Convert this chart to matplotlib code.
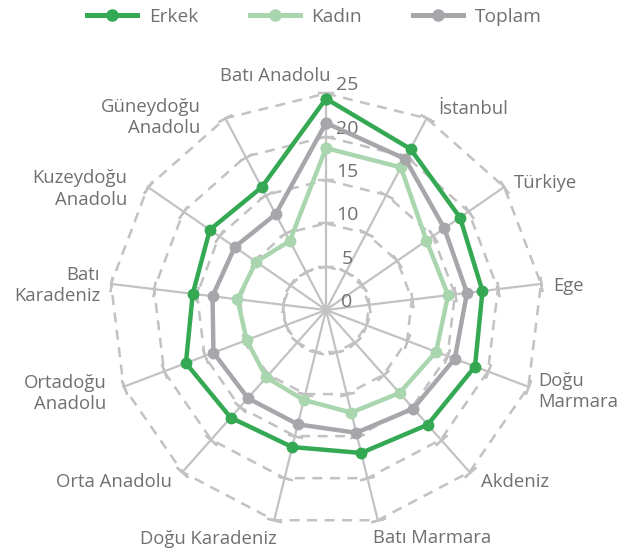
import numpy as np
import matplotlib
matplotlib.use("Agg")
import matplotlib.pyplot as plt
from matplotlib.lines import Line2D

plt.rcParams['font.family'] = ['Open Sans', 'DejaVu Sans']

categories = ["Batı Anadolu", "İstanbul", "Türkiye", "Ege", "Doğu\nMarmara", "Akdeniz",
              "Batı Marmara", "Doğu Karadeniz", "Orta Anadolu", "Ortadoğu\nAnadolu",
              "Batı\nKaradeniz", "Kuzeydoğu\nAnadolu", "Güneydoğu\nAnadolu"]
erkek = [24.4, 21.0, 18.8, 18.2, 18.4, 17.7, 17.0, 16.3, 16.6, 17.3, 15.5, 16.3, 16.0]
kadin = [18.7, 18.6, 14.1, 14.2, 13.6, 12.8, 12.2, 10.7, 10.4, 9.8, 10.3, 9.8, 9.0]
toplam = [21.6, 19.7, 16.6, 16.4, 15.9, 15.2, 14.6, 13.6, 13.6, 13.9, 13.2, 12.8, 12.5]
rticks = [0, 5, 10, 15, 20, 25]
series_names = ["Erkek", "Kadın", "Toplam"]

# layout (pixels)
W, H = 629, 549
cx, cy, R = 326, 310, 216.5
TEXT = "#707070"
GRID = "#c2c2c2"
colors = {"Erkek": "#34a853", "Kadın": "#a9d6ae", "Toplam": "#a6a6ab"}

fig = plt.figure(figsize=(W / 100, H / 100), dpi=100)
w, h = 2 * R / W, 2 * R / H
ax = fig.add_axes([cx / W - w / 2, (H - cy) / H - h / 2, w, h], projection='polar')
ax.set_theta_zero_location('N')
ax.set_theta_direction(-1)
ax.set_ylim(0, rticks[-1])
ax.set_axis_off()

n = len(categories)
theta = np.arange(n) * 2 * np.pi / n
theta_c = np.append(theta, theta[0])

# spokes
for t in theta:
    ax.plot([t, t], [0, rticks[-1]], color=GRID, lw=1.6, clip_on=False, zorder=1)
    ax.plot([t] * (len(rticks) - 1), rticks[1:], ls='none',
            marker=(2, 2, 90 - np.degrees(t)), ms=11, mew=1.6, mec=GRID,
            clip_on=False, zorder=1)
# dashed rings
for v in rticks[1:]:
    ax.plot(theta_c, [v] * (n + 1), color=GRID, lw=1.8, ls=(0, (4, 3)),
            clip_on=False, zorder=1)

# series
data = {"Erkek": erkek, "Kadın": kadin, "Toplam": toplam}
zo = {"Kadın": 3, "Toplam": 4, "Erkek": 5}
for name in series_names:
    vals = data[name]
    ax.plot(theta_c, list(vals) + [vals[0]], color=colors[name], lw=3.2,
            marker='o', ms=7.5, clip_on=False, zorder=zo[name],
            solid_joinstyle='round')

# radial tick labels
for v in rticks:
    ax.annotate(str(v), xy=(0, v), xytext=(21, 8), textcoords='offset pixels',
                ha='center', va='center', fontsize=14, color=TEXT)

# category labels: (ha, dx, dy) pixel offsets from spoke end
lab_pos = [("right", 4, 19), ("left", 12, 11), ("left", 10, 6), ("left", 12, 0),
           ("left", 10, -3), ("left", 11, -8), ("left", -5, -16), ("right", 3, -17),
           ("right", -11, -8), ("right", -17, -5), ("right", -11, 0),
           ("right", -21, 0), ("right", -25, 3)]
for t, lab, (ha, dx, dy) in zip(theta, categories, lab_pos):
    ax.annotate(lab, xy=(t, rticks[-1]), xytext=(dx, dy - 2), textcoords='offset pixels',
                ha=ha, va='center', multialignment=ha, fontsize=13.3, color=TEXT,
                linespacing=1.22, annotation_clip=False)

handles = [Line2D([], [], color=colors[s], lw=3.6, marker='o', ms=8) for s in series_names]
fig.legend(handles, series_names, loc='center', bbox_to_anchor=(0.5, 1 - 17 / H),
           ncol=3, frameon=False, fontsize=13.8, labelcolor=TEXT,
           handlelength=2.6, handletextpad=0.6, columnspacing=2.7)

fig.savefig("out.png", dpi=100)
